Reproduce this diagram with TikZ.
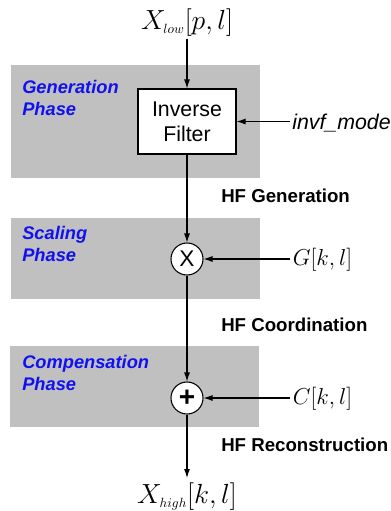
\documentclass[tikz,border=0pt]{standalone}
\usepackage[no-math]{fontspec}
\setmainfont{Liberation Sans}
\usetikzlibrary{arrows.meta,positioning}
\definecolor{hfgray}{RGB}{192,192,192}
\definecolor{hfblue}{RGB}{16,16,240}
\definecolor{hfline}{RGB}{0,0,0}
\tikzset{
  hfPhase/.style={fill=hfgray, draw=none, minimum width=186.75pt,
                  inner sep=0pt},
  hfPhaseText/.style={anchor=north west, inner sep=0pt, align=left,
                      text=hfblue, font=\fontsize{13.7}{16.5}\selectfont\bfseries\itshape},
  hfFilter/.style={draw=hfline, fill=white, thick, align=center,
                   minimum width=73.5pt, minimum height=48.75pt,
                   font=\fontsize{16}{18.75}\selectfont},
  hfOp/.style={circle, draw=hfline, fill=white, thick, inner sep=0pt,
               minimum size=24pt},
  hfStage/.style={anchor=base west, inner sep=0pt,
                  font=\fontsize{14}{16}\selectfont\bfseries},
  hfIn/.style={anchor=base west, inner sep=2pt},
  hfArrow/.style={-{Latex[length=6.75pt,width=4.5pt]}, thick, draw=hfline}
}
\begin{document}
\begin{tikzpicture}[x=0.75pt,y=-0.75pt]
  \useasboundingbox (0,0) rectangle (390,511);
  % phase backgrounds
  \node[hfPhase, minimum height=84.75pt] (gen) at (135.5,121.5) {};
  \node[hfPhase, minimum height=60.75pt] (scal) at (135.5,258.5) {};
  \node[hfPhase, minimum height=60.75pt] (comp) at (134.5,386.5) {};
  \node[hfPhaseText] (genlbl) at (22,80) {Generation\\Phase};
  \node[hfPhaseText] (scallbl) at (22,226) {Scaling\\Phase};
  \node[hfPhaseText] (complbl) at (22,355) {Compensation\\Phase};

  % signal path
  \node[anchor=base, inner sep=2pt, font=\fontsize{20.5}{24}\selectfont] (xlow) at (187,29) {$X_{\scriptscriptstyle low}[p,l]$};
  \node[hfFilter] (filter) at (187,121.5) {Inverse\\Filter};
  \node[hfOp, font=\fontsize{17}{18}\selectfont] (mult) at (187,259) {X};
  \node[hfOp, font=\fontsize{21}{22}\selectfont\bfseries] (add) at (187,398) {+};
  \node[anchor=base, inner sep=3pt, font=\fontsize{20.5}{24}\selectfont] (xhigh) at (187,503) {$X_{\scriptscriptstyle high}[k,l]$};

  % side inputs
  \node[hfIn, inner sep=1.5pt, font=\fontsize{16}{18}\selectfont\itshape] (invf) at (290,129) {invf\_mode};
  \node[hfIn, font=\fontsize{17.5}{20}\selectfont] (gain) at (290,265) {$G[k,l]$};
  \node[hfIn, font=\fontsize{17.5}{20}\selectfont] (corr) at (290,404) {$C[k,l]$};

  % stage names
  \node[hfStage] (hfgen) at (221,202) {HF Generation};
  \node[hfStage] (hfcoord) at (221,331) {HF Coordination};
  \node[hfStage] (hfrec) at (221,451) {HF Reconstruction};

  \draw[hfArrow] (xlow) -- (filter);
  \draw[hfArrow] (filter) -- (mult);
  \draw[hfArrow] (mult) -- (add);
  \draw[hfArrow] (add) -- (xhigh);
  \draw[hfArrow] (invf.west |- filter.east) -- (filter.east);
  \draw[hfArrow] (gain.west |- mult.east) -- (mult.east);
  \draw[hfArrow] (corr.west |- add.east) -- (add.east);
\end{tikzpicture}
\end{document}
